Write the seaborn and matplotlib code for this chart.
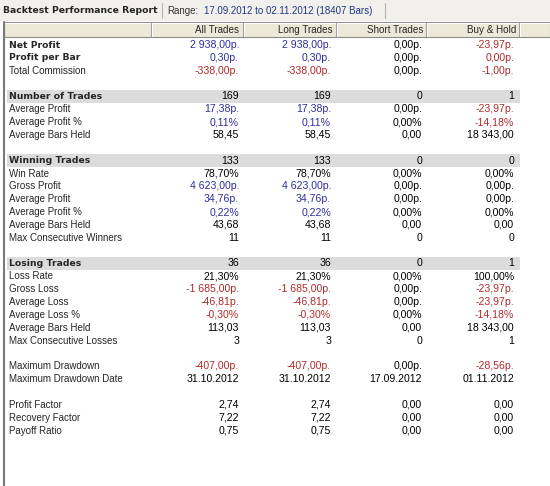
import pandas as pd
import matplotlib.pyplot as plt
from matplotlib.colors import ListedColormap
from matplotlib.patches import Rectangle
import seaborn as sns

title = 'Backtest Performance Report'
range_label = 'Range:'
range_text = '17.09.2012 to 02.11.2012 (18407 Bars)'
columns = ['All Trades', 'Long Trades', 'Short Trades', 'Buy & Hold']

labels = ['Net Profit', 'Profit per Bar', 'Total Commission', '',
          'Number of Trades', 'Average Profit', 'Average Profit %', 'Average Bars Held', '',
          'Winning Trades', 'Win Rate', 'Gross Profit', 'Average Profit', 'Average Profit %',
          'Average Bars Held', 'Max Consecutive Winners', '',
          'Losing Trades', 'Loss Rate', 'Gross Loss', 'Average Loss', 'Average Loss %',
          'Average Bars Held', 'Max Consecutive Losses', '',
          'Maximum Drawdown', 'Maximum Drawdown Date', '',
          'Profit Factor', 'Recovery Factor', 'Payoff Ratio']
all_trades = ['2 938,00p.', '0,30p.', '-338,00p.', '',
              '169', '17,38p.', '0,11%', '58,45', '',
              '133', '78,70%', '4 623,00p.', '34,76p.', '0,22%', '43,68', '11', '',
              '36', '21,30%', '-1 685,00p.', '-46,81p.', '-0,30%', '113,03', '3', '',
              '-407,00p.', '31.10.2012', '',
              '2,74', '7,22', '0,75']
long_trades = ['2 938,00p.', '0,30p.', '-338,00p.', '',
               '169', '17,38p.', '0,11%', '58,45', '',
               '133', '78,70%', '4 623,00p.', '34,76p.', '0,22%', '43,68', '11', '',
               '36', '21,30%', '-1 685,00p.', '-46,81p.', '-0,30%', '113,03', '3', '',
               '-407,00p.', '31.10.2012', '',
               '2,74', '7,22', '0,75']
short_trades = ['0,00p.', '0,00p.', '0,00p.', '',
                '0', '0,00p.', '0,00%', '0,00', '',
                '0', '0,00%', '0,00p.', '0,00p.', '0,00%', '0,00', '0', '',
                '0', '0,00%', '0,00p.', '0,00p.', '0,00%', '0,00', '0', '',
                '0,00p.', '17.09.2012', '',
                '0,00', '0,00', '0,00']
buy_hold = ['-23,97p.', '0,00p.', '-1,00p.', '',
            '1', '-23,97p.', '-14,18%', '18 343,00', '',
            '0', '0,00%', '0,00p.', '0,00p.', '0,00%', '0,00', '0', '',
            '1', '100,00%', '-23,97p.', '-23,97p.', '-14,18%', '18 343,00', '1', '',
            '-28,56p.', '01.11.2012', '',
            '0,00', '0,00', '0,00']
bold_rows = ['Net Profit', 'Profit per Bar', 'Number of Trades', 'Winning Trades', 'Losing Trades']
section_rows = ['Number of Trades', 'Winning Trades', 'Losing Trades']

# colour code per row, one letter per column (b = gain, r = loss, k = plain)
tone = ['bbkr', 'bbkr', 'rrkr', '',
        'kkkk', 'bbkr', 'bbkr', 'kkkk', '',
        'kkkk', 'kkkk', 'bbkk', 'bbkk', 'bbkk', 'kkkk', 'kkkk', '',
        'kkkk', 'kkkk', 'rrkr', 'rrkr', 'rrkr', 'kkkk', 'kkkk', '',
        'rrkr', 'kkkk', '',
        'kkkk', 'kkkk', 'kkkk']
palette = {'b': '#2E2E9E', 'r': '#B02A2A', 'k': '#000000'}

df = pd.DataFrame({'label': labels, 'All Trades': all_trades, 'Long Trades': long_trades,
                   'Short Trades': short_trades, 'Buy & Hold': buy_hold})
df['band'] = df['label'].isin(section_rows).astype(int)

W, H = 550, 486
row0, row_h = 45.0, 12.85
value_right = [239, 331, 422, 514]
head_right = [239, 333, 423, 516]
seps = [151, 243, 336, 426, 519]

sns.set_style('white')
plt.rcParams['font.family'] = ['Liberation Sans', 'DejaVu Sans']

fig = plt.figure(figsize=(W / 100, H / 100), dpi=100)
fig.patch.set_facecolor('white')

# grey bands behind the section rows
top = row0 - row_h / 2
bot = top + row_h * len(df)
ax_band = fig.add_axes([7 / W, 1 - bot / H, (520 - 7) / W, (bot - top) / H])
sns.heatmap(df[['band']], ax=ax_band, cmap=ListedColormap(['white', '#DCDCDC']),
            vmin=0, vmax=1, cbar=False, xticklabels=False, yticklabels=False)
ax_band.axis('off')

ax = fig.add_axes([0, 0, 1, 1])
ax.set_facecolor('none')
ax.set_xlim(0, W)
ax.set_ylim(H, 0)
ax.axis('off')

# top bar
ax.add_patch(Rectangle((0, 0), W, 21, facecolor='#F1F0EC', edgecolor='none'))
ax.text(3, 10.5, title, fontsize=6.7, fontweight='bold', family='DejaVu Sans', va='center')
ax.plot([162, 162], [3, 18], color='#B5B5B5', lw=0.8)
ax.plot([385, 385], [3, 18], color='#B5B5B5', lw=0.8)
ax.text(167, 10.5, range_label, fontsize=7.0, va='center', color='#333333')
ax.text(204, 10.5, range_text, fontsize=7.0, va='center', color='#1F3A80')

# column header
ax.add_patch(Rectangle((3.5, 22), W - 3.5, 15, facecolor='#ECE9D8', edgecolor='#8C8C8C', lw=0.8))
ax.plot([4, W], [23, 23], color='white', lw=0.8)
for s in seps:
    ax.plot([s, s], [23.5, 36], color='#9A9A9A', lw=0.8)
    ax.plot([s + 1, s + 1], [23.5, 36], color='white', lw=0.8)
for c, xr in zip(columns, head_right):
    ax.text(xr, 29.8, c, fontsize=7.1, ha='right', va='center')

# left border of the body
ax.plot([3.5, 3.5], [22, H], color='#7A7A7A', lw=1.5)

for i, row in df.iterrows():
    y = row0 + row_h * i
    if row['label'] == '':
        continue
    if row['label'] in bold_rows:
        ax.text(9, y, row['label'], fontsize=6.7, fontweight='bold', family='DejaVu Sans', va='center')
    else:
        ax.text(9, y, row['label'], fontsize=7.0, va='center')
    for j, (c, xr) in enumerate(zip(columns, value_right)):
        ax.text(xr, y, row[c], fontsize=7.6, ha='right', va='center', color=palette[tone[i][j]])

fig.savefig('out.png', dpi=100)
